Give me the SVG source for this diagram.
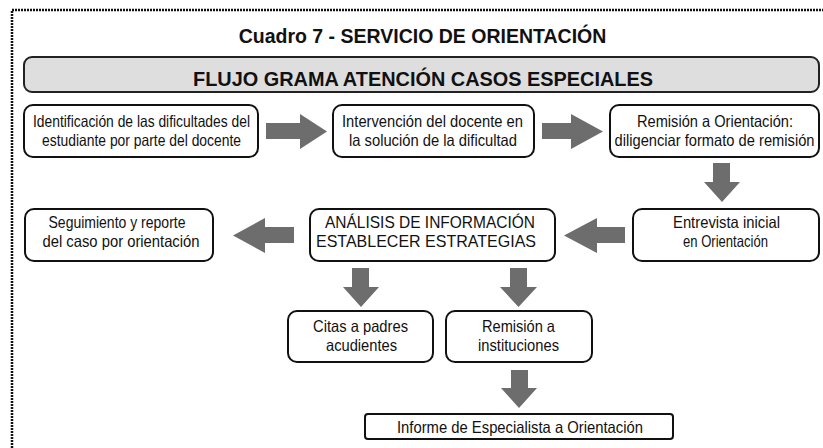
<svg xmlns="http://www.w3.org/2000/svg" width="823" height="448" viewBox="0 0 823 448">
<style>
.frame{fill:none;stroke:#111;stroke-width:2.5;stroke-dasharray:2 1}
.box{fill:#fff;stroke:#111;stroke-width:2}
.banner{fill:#dedede;stroke:#222;stroke-width:2}
.arr{fill:#6d6d6d}
.t{font-family:"Liberation Sans",Arial,sans-serif;font-size:16.5px;fill:#111;text-anchor:middle}
.b{font-family:"Liberation Sans",Arial,sans-serif;font-weight:bold;fill:#111;text-anchor:middle}
</style>
<rect width="823" height="448" fill="#fff"/>
<path class="frame" d="M12,448 V10 H823"/>
<text class="b" x="422.5" y="43" font-size="19.5">Cuadro 7 - SERVICIO DE ORIENTACIÓN</text>
<g id="banner">
<rect class="banner" x="24" y="57" width="795" height="35" rx="8"/>
<text class="b" x="423" y="86" font-size="20" textLength="460" lengthAdjust="spacingAndGlyphs">FLUJO GRAMA ATENCIÓN CASOS ESPECIALES</text>
</g>
<g id="n1">
<rect class="box" x="24" y="105" width="234" height="52" rx="9"/>
<text class="t" x="141.5" y="127" textLength="217" lengthAdjust="spacingAndGlyphs">Identificación de las dificultades del</text>
<text class="t" x="141.5" y="145.5" textLength="199" lengthAdjust="spacingAndGlyphs">estudiante por parte del docente</text>
</g>
<g id="n2">
<rect class="box" x="333" y="105" width="201" height="52" rx="9"/>
<text class="t" x="432.5" y="127" textLength="181" lengthAdjust="spacingAndGlyphs">Intervención del docente en</text>
<text class="t" x="433" y="145.5" textLength="168" lengthAdjust="spacingAndGlyphs">la solución de la dificultad</text>
</g>
<g id="n3">
<rect class="box" x="610" y="105" width="209" height="52" rx="9"/>
<text class="t" x="715" y="127" textLength="156" lengthAdjust="spacingAndGlyphs">Remisión a Orientación:</text>
<text class="t" x="714.5" y="145.5" font-size="15" textLength="200" lengthAdjust="spacingAndGlyphs">diligenciar formato de remisión</text>
</g>
<g id="n4">
<rect class="box" x="633" y="209" width="186" height="52" rx="9"/>
<text class="t" x="726.5" y="228" textLength="107" lengthAdjust="spacingAndGlyphs">Entrevista inicial</text>
<text class="t" x="725.5" y="246.5" textLength="85" lengthAdjust="spacingAndGlyphs">en Orientación</text>
</g>
<g id="n5">
<rect class="box" x="310" y="209" width="245" height="52" rx="9"/>
<text class="t" x="430" y="228" textLength="210" lengthAdjust="spacingAndGlyphs">ANÁLISIS DE INFORMACIÓN</text>
<text class="t" x="426" y="246.5" textLength="220" lengthAdjust="spacingAndGlyphs">ESTABLECER ESTRATEGIAS</text>
</g>
<g id="n6">
<rect class="box" x="25" y="209" width="188" height="52" rx="9"/>
<text class="t" x="117" y="228" textLength="137" lengthAdjust="spacingAndGlyphs">Seguimiento y reporte</text>
<text class="t" x="121" y="246.5" textLength="157" lengthAdjust="spacingAndGlyphs">del caso por orientación</text>
</g>
<g id="n7">
<rect class="box" x="288" y="311" width="145" height="51" rx="9"/>
<text class="t" x="360.5" y="332" textLength="95" lengthAdjust="spacingAndGlyphs">Citas a padres</text>
<text class="t" x="361.5" y="350.5" textLength="71" lengthAdjust="spacingAndGlyphs">acudientes</text>
</g>
<g id="n8">
<rect class="box" x="446" y="311" width="146" height="51" rx="9"/>
<text class="t" x="518.5" y="332" textLength="73" lengthAdjust="spacingAndGlyphs">Remisión a</text>
<text class="t" x="518.5" y="350.5" textLength="81" lengthAdjust="spacingAndGlyphs">instituciones</text>
</g>
<g id="n9">
<rect class="box" x="365" y="414" width="308" height="25" rx="3"/>
<text class="t" x="520" y="432.5" textLength="246" lengthAdjust="spacingAndGlyphs">Informe de Especialista a Orientación</text>
</g>
<g id="connectors">
<polygon class="arr" points="266,123 300,123 300,114 327,131.5 300,149 300,139 266,139"/>
<polygon class="arr" points="542,123 571,123 571,114 603,131.5 571,149 571,139 542,139"/>
<polygon class="arr" points="713,163 730,163 730,182 740,182 722,202 704,182 713,182"/>
<polygon class="arr" points="294,227 265,227 265,218 233,235.5 265,253 265,243 294,243"/>
<polygon class="arr" points="625,227 597,227 597,218 564,235.5 597,253 597,243 625,243"/>
<polygon class="arr" points="352,268 369,268 369,287 379,287 361,307 343,287 352,287"/>
<polygon class="arr" points="510,268 527,268 527,287 537,287 518.5,307 500,287 510,287"/>
<polygon class="arr" points="511,370 528,370 528,388 537,388 519,408 501,388 511,388"/>
</g>
</svg>
